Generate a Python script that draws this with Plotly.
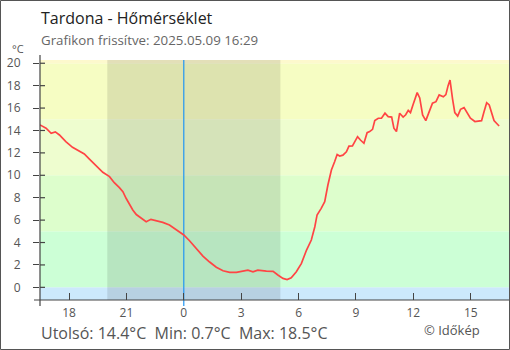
import plotly.graph_objects as go

# ---- data ----
times = [
    "2025-05-08 16:29", "2025-05-08 16:48", "2025-05-08 17:04", "2025-05-08 17:17", "2025-05-08 17:30",
    "2025-05-08 17:50", "2025-05-08 18:11", "2025-05-08 18:32", "2025-05-08 18:48", "2025-05-08 19:04",
    "2025-05-08 19:25", "2025-05-08 19:46", "2025-05-08 20:07", "2025-05-08 20:22", "2025-05-08 20:38",
    "2025-05-08 20:49", "2025-05-08 20:59", "2025-05-08 21:10", "2025-05-08 21:20", "2025-05-08 21:31",
    "2025-05-08 21:46", "2025-05-08 22:02", "2025-05-08 22:17", "2025-05-08 22:33", "2025-05-08 22:54",
    "2025-05-08 23:15", "2025-05-08 23:36", "2025-05-09 00:00", "2025-05-09 00:18", "2025-05-09 00:39",
    "2025-05-09 01:00", "2025-05-09 01:21", "2025-05-09 01:42", "2025-05-09 02:03", "2025-05-09 02:24",
    "2025-05-09 02:45", "2025-05-09 03:05", "2025-05-09 03:21", "2025-05-09 03:37", "2025-05-09 03:52",
    "2025-05-09 04:19", "2025-05-09 04:40", "2025-05-09 04:55", "2025-05-09 05:11", "2025-05-09 05:24",
    "2025-05-09 05:37", "2025-05-09 05:53", "2025-05-09 06:09", "2025-05-09 06:25", "2025-05-09 06:40",
    "2025-05-09 06:51", "2025-05-09 06:58", "2025-05-09 07:11", "2025-05-09 07:22", "2025-05-09 07:32",
    "2025-05-09 07:43", "2025-05-09 07:53", "2025-05-09 08:01", "2025-05-09 08:09", "2025-05-09 08:19",
    "2025-05-09 08:30", "2025-05-09 08:38", "2025-05-09 08:49", "2025-05-09 08:56", "2025-05-09 09:05",
    "2025-05-09 09:14", "2025-05-09 09:25", "2025-05-09 09:35", "2025-05-09 09:43", "2025-05-09 09:52",
    "2025-05-09 09:59", "2025-05-09 10:10", "2025-05-09 10:20", "2025-05-09 10:31", "2025-05-09 10:41",
    "2025-05-09 10:52", "2025-05-09 10:59", "2025-05-09 11:07", "2025-05-09 11:17", "2025-05-09 11:28",
    "2025-05-09 11:36", "2025-05-09 11:44", "2025-05-09 11:51", "2025-05-09 11:59", "2025-05-09 12:12",
    "2025-05-09 12:20", "2025-05-09 12:29", "2025-05-09 12:39", "2025-05-09 12:50", "2025-05-09 13:00",
    "2025-05-09 13:11", "2025-05-09 13:21", "2025-05-09 13:34", "2025-05-09 13:42", "2025-05-09 13:49",
    "2025-05-09 13:55", "2025-05-09 14:03", "2025-05-09 14:10", "2025-05-09 14:19", "2025-05-09 14:28",
    "2025-05-09 14:39", "2025-05-09 14:49", "2025-05-09 14:59", "2025-05-09 15:13", "2025-05-09 15:34",
    "2025-05-09 15:41", "2025-05-09 15:50", "2025-05-09 15:58", "2025-05-09 16:05", "2025-05-09 16:13",
    "2025-05-09 16:23", "2025-05-09 16:29",
]
temps = [
    14.5, 14.2, 13.75, 13.87, 13.6,
    13.0, 12.5, 12.17, 11.9, 11.45,
    10.83, 10.27, 9.88, 9.34, 8.9,
    8.54, 7.95, 7.35, 6.9, 6.5,
    6.16, 5.86, 6.07, 5.95, 5.8,
    5.56, 5.12, 4.67, 4.16, 3.48,
    2.79, 2.26, 1.79, 1.48, 1.34,
    1.34, 1.48, 1.54, 1.39, 1.54,
    1.45, 1.42, 1.1, 0.8, 0.7,
    0.86, 1.39, 2.14, 3.33, 4.22,
    5.41, 6.46, 7.05, 7.64, 9.13,
    10.47, 11.21, 11.85, 11.72, 11.8,
    12.1, 12.6, 12.62, 13.0, 13.45,
    13.15, 12.86, 13.8, 13.9, 14.1,
    14.88, 15.09, 15.09, 15.54, 15.23,
    15.2, 14.2, 13.9, 15.54, 15.2,
    15.4, 15.8, 15.6, 16.3, 17.38,
    16.9, 15.38, 14.88, 15.68, 16.43,
    16.57, 17.17, 17.0, 17.2, 18.0,
    18.5, 16.8, 15.6, 15.29, 15.89,
    16.04, 15.6, 15.1, 14.8, 14.88,
    15.6, 16.48, 16.28, 15.54, 14.88,
    14.58, 14.4,
]

x_range = ["2025-05-08 16:29", "2025-05-09 17:00"]
y_range = [-1.13, 20.29]
x_tickvals = ["2025-05-08 18:00", "2025-05-08 21:00", "2025-05-09 00:00", "2025-05-09 03:00",
              "2025-05-09 06:00", "2025-05-09 09:00", "2025-05-09 12:00", "2025-05-09 15:00"]
x_ticktext = ["18", "21", "0", "3", "6", "9", "12", "15"]
y_tickvals = [0, 2, 4, 6, 8, 10, 12, 14, 16, 18, 20]
night_start = "2025-05-08 20:00"
night_end = "2025-05-09 05:03"
midnight = "2025-05-09 00:00"
band_edges = [-10, 0, 5, 10, 15, 20, 25]
band_colors = ["#cce9fc", "#ccffd6", "#ddfecc", "#eefdcf", "#f6fdc3", "#fdf9cd"]

title_text = "Tardona - Hőmérséklet"
subtitle_text = "Grafikon frissítve: 2025.05.09 16:29"
footer_text = "Utolsó: 14.4°C  Min: 0.7°C  Max: 18.5°C"
credit_text = "© Időkép"
unit_text = "°C"

# ---- geometry helpers (pixel -> paper) ----
W, H = 510, 350
ML, MR, MT, MB = 40, 1, 60, 50
PW, PH = W - ML - MR, H - MT - MB


def px(x):
    return (x - ML) / PW


def py(y):
    return (H - MB - y) / PH


FONT = "Open Sans"
AX = "#444444"

fig = go.Figure()
fig.add_trace(go.Scatter(
    x=times, y=temps, mode="lines",
    line=dict(color="#ff4444", width=1.7),
    hoverinfo="skip", showlegend=False,
))

shapes = []
for i, c in enumerate(band_colors):
    shapes.append(dict(type="rect", xref="paper", yref="y", x0=0, x1=1,
                       y0=band_edges[i], y1=band_edges[i + 1],
                       fillcolor=c, line=dict(width=0), layer="below"))
shapes.append(dict(type="rect", xref="x", yref="paper", x0=night_start, x1=night_end,
                   y0=0, y1=1, fillcolor="rgba(0,0,0,0.10)", line=dict(width=0), layer="below"))
shapes.append(dict(type="line", xref="x", yref="paper", x0=midnight, x1=midnight,
                   y0=py(306), y1=1, line=dict(color="#2196f3", width=1.2), layer="below"))
# axis lines with overhang
shapes.append(dict(type="line", xref="paper", yref="paper", x0=0, x1=0, y0=py(306), y1=py(55),
                   line=dict(color=AX, width=1.2)))
shapes.append(dict(type="line", xref="paper", yref="paper", x0=px(34), x1=1, y0=0, y1=0,
                   line=dict(color=AX, width=1.2)))
# inner half of y ticks (crossing ticks)
for v in y_tickvals:
    shapes.append(dict(type="line", xref="paper", yref="y", x0=0, x1=px(45), y0=v, y1=v,
                       line=dict(color=AX, width=1.2)))
# outer frame
shapes.append(dict(type="rect", xref="paper", yref="paper", x0=px(0.5), x1=px(509.5),
                   y0=py(349.5), y1=py(0.5), line=dict(color="#555555", width=1),
                   fillcolor="rgba(0,0,0,0)"))

annotations = [
    dict(text=title_text, x=px(39), y=py(18), xanchor="left", yanchor="middle",
         font=dict(family=FONT, size=16, color="#222222")),
    dict(text=subtitle_text, x=px(39), y=py(40.5), xanchor="left", yanchor="middle",
         font=dict(family=FONT, size=13.3, color="#666666")),
    dict(text=unit_text, x=px(26), y=py(48.5), xanchor="right", yanchor="middle",
         font=dict(family=FONT, size=11, color="#555555")),
    dict(text=footer_text, x=px(39), y=py(333), xanchor="left", yanchor="middle",
         font=dict(family=FONT, size=16, color="#555555")),
    dict(text=credit_text, x=px(482), y=py(330), xanchor="right", yanchor="middle",
         font=dict(family=FONT, size=13, color="#555555")),
]
for a in annotations:
    a.update(xref="paper", yref="paper", showarrow=False)

fig.update_layout(
    width=W, height=H,
    margin=dict(l=ML, r=MR, t=MT, b=MB, pad=0),
    paper_bgcolor="white", plot_bgcolor="white",
    shapes=shapes, annotations=annotations,
    showlegend=False,
    xaxis=dict(type="date", range=x_range, tickvals=x_tickvals, ticktext=x_ticktext,
               ticks="inside", ticklen=7, tickcolor=AX, tickwidth=1.2,
               showgrid=False, zeroline=False, showline=False,
               tickfont=dict(family=FONT, size=12, color="#555555"),
               ticklabelstandoff=4),
    yaxis=dict(range=y_range, tickvals=y_tickvals, ticks="outside", ticklen=6,
               tickcolor=AX, tickwidth=1.2, showgrid=False, zeroline=False, showline=False,
               tickfont=dict(family=FONT, size=12, color="#555555"),
               ticklabelstandoff=10),
)

fig.write_html("out.html")
